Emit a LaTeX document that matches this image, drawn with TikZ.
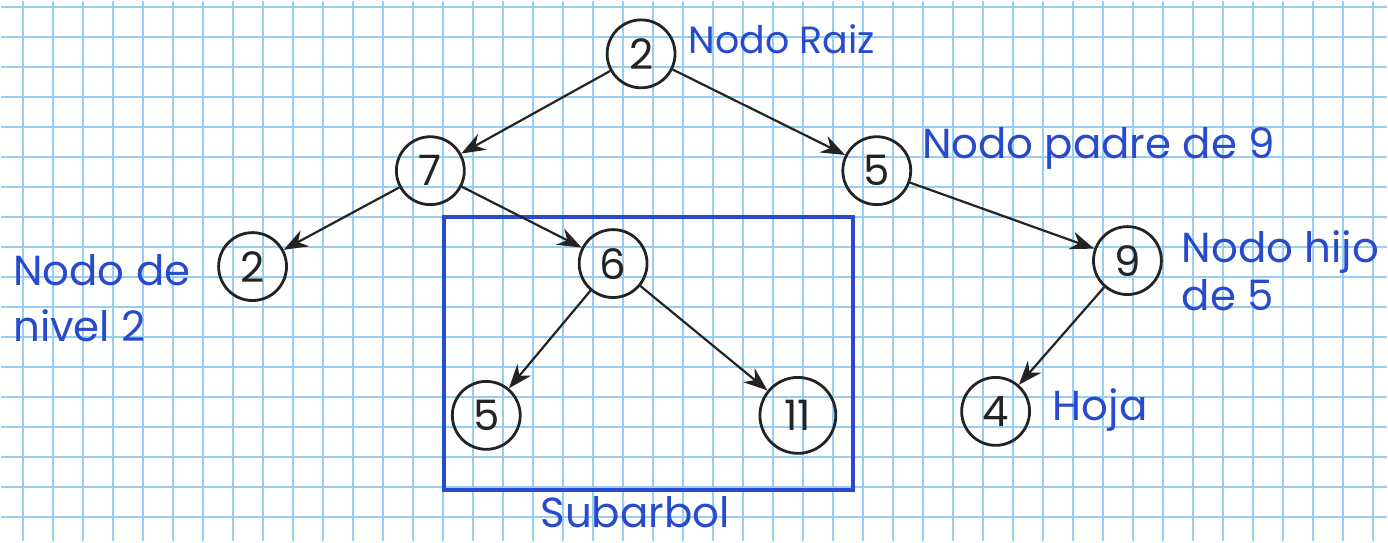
\documentclass[tikz,border=0pt]{standalone}
\usepackage{fontspec}
\setmainfont{Poppins}
\usetikzlibrary{arrows.meta}
\definecolor{gridblue}{RGB}{150,206,242}
\definecolor{inkblue}{RGB}{40,75,205}
\definecolor{ink}{RGB}{35,35,35}
\begin{document}
\begin{tikzpicture}[x=0.5pt,y=-0.5pt,
  vertex/.style={circle, draw=ink, line width=1.4pt, inner sep=0pt,
    minimum size=#1, text=ink, font=\fontsize{21}{21}\selectfont},
  vertex/.default=34pt,
  edge/.style={draw=ink, line width=1.1pt, -{Stealth[length=12pt,width=9pt]}},
  note/.style={text=inkblue, inner sep=0pt, anchor=west, align=left,
    font=\fontsize{21}{#1}\selectfont},
  note/.default=24pt,
  subtree/.style={draw=inkblue, line width=2pt, inner sep=0pt}]
% squared paper
\fill[white] (0,0) rectangle (1388,541);
\foreach \i in {0,...,45}
  \draw[gridblue, line width=0.9pt] ({22+30.05*\i},0) -- ({22+30.05*\i},541);
\foreach \j in {0,...,17}
  \draw[gridblue, line width=0.9pt] (0,{6+30.05*\j}) -- (1388,{6+30.05*\j});
\useasboundingbox (0,0) rectangle (1388,541);

% subtree frame
\node[subtree, minimum width=204.5pt, minimum height=137pt] (sub) at (648.5,353) {};

% tree nodes
\node[vertex] (r)   at (641,53)  {2};
\node[vertex] (n7)  at (430,170) {7};
\node[vertex] (n5a) at (877,170) {5};
\node[vertex] (n2)  at (252,266) {2};
\node[vertex] (n6)  at (613,263) {6};
\node[vertex] (n9)  at (1128,260) {9};
\node[vertex] (n5b) at (486,415) {5};
\node[vertex=38pt] (n11) at (798,415) {11};
\node[vertex] (n4)  at (996,411) {4};

% edges
\draw[edge] (r) -- (n7);
\draw[edge] (r) -- (n5a);
\draw[edge] (n7) -- (n2);
\draw[edge] (n7) -- (n6);
\draw[edge] (n5a) -- (n9);
\draw[edge] (n6) -- (n5b);
\draw[edge] (n6) -- (n11);
\draw[edge] (n9) -- (n4);

% annotations
\node[note, font=\fontsize{19}{19}\selectfont] (lroot) at (688,38) {Nodo Raiz};
\node[note] (lpadre) at (922,148) {Nodo padre de 9};
\node[note=28pt] (lnivel) at (12,298) {Nodo de\\nivel 2};
\node[note] (lhijo) at (1182,270) {Nodo hijo\\de 5};
\node[note] (lhoja) at (1053,410) {Hoja};
\node[note, anchor=center] (lsub) at (635,512) {Subarbol};
\end{tikzpicture}
\end{document}
